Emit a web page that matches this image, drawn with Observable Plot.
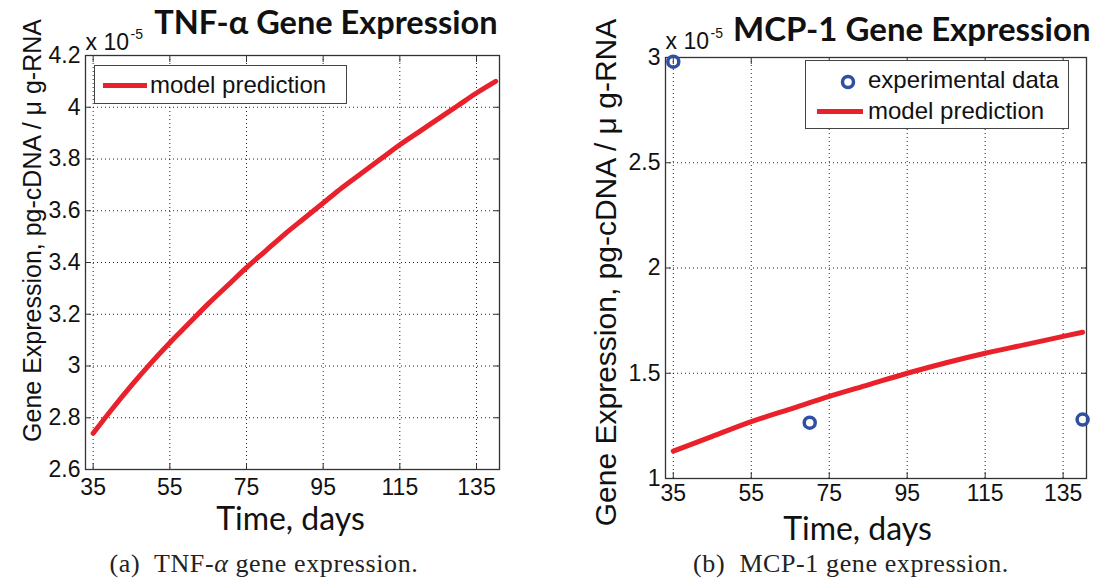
<!DOCTYPE html>
<html>
<head>
<meta charset="utf-8">
<script src="https://cdn.jsdelivr.net/npm/d3@7"></script>
<script src="https://cdn.jsdelivr.net/npm/@observablehq/plot@0.6"></script>
<style>
  html, body { margin: 0; padding: 0; background: #fff; }
  body { width: 1094px; height: 586px; position: relative; overflow: hidden; font-family: "Liberation Sans", Arial, sans-serif; color: #111; }
  .panel { position: absolute; top: 0; width: 547px; height: 540px; }
  .panel svg { overflow: visible; }
  .caption { position: absolute; top: 549px; font-family: "Liberation Serif", "DejaVu Serif", serif; font-size: 26px; letter-spacing: 0.6px; color: #222; white-space: nowrap; transform: translateX(-50%); }
  .legend { position: absolute; box-sizing: border-box; border: 1.5px solid #444; background: #fff; }
  .legend .row { position: absolute; left: 0; font-family: "Liberation Sans", Arial, sans-serif; font-size: 24px; line-height: 24px; white-space: nowrap; color: #111; }
  .legend svg { position: absolute; }
</style>
</head>
<body>
<div id="pa" class="panel" style="left:0px"></div>
<div id="pb" class="panel" style="left:547px"></div>

<div class="legend" style="left:94px;top:65px;width:253px;height:39px">
  <svg style="left:8px;top:16px" width="46" height="7"><line x1="0" y1="3.5" x2="44" y2="3.5" stroke="#e8212b" stroke-width="5"/></svg>
  <div class="row" style="left:55px;top:7px">model prediction</div>
</div>

<div class="legend" style="left:805px;top:60px;width:264px;height:69px">
  <svg style="left:32px;top:11px" width="20" height="20"><circle cx="10" cy="10" r="5.5" fill="none" stroke="#2f4fa2" stroke-width="3.5"/></svg>
  <div class="row" style="left:62px;top:7px">experimental data</div>
  <svg style="left:11px;top:47px" width="48" height="7"><line x1="0" y1="3.5" x2="46" y2="3.5" stroke="#e8212b" stroke-width="5"/></svg>
  <div class="row" style="left:62px;top:38px">model prediction</div>
</div>

<div class="caption" style="left:264px">(a)&nbsp; TNF-<i>α</i> gene expression.</div>
<div class="caption" style="left:851px">(b)&nbsp; MCP-1 gene expression.</div>

<script>
// ---------------- data ----------------
const xTicks = [35, 55, 75, 95, 115, 135];

// TNF-alpha model prediction (x 10^-5 pg-cDNA / ug-RNA)
const tnfDays = [35, 40, 45, 50, 55, 60, 65, 70, 75, 80, 85, 90, 95, 100, 105, 110, 115, 120, 125, 130, 135, 140];
const tnfExpr = [2.74, 2.835, 2.925, 3.01, 3.09, 3.165, 3.24, 3.31, 3.38, 3.445, 3.51, 3.57, 3.63, 3.69, 3.745, 3.80, 3.855, 3.905, 3.955, 4.005, 4.055, 4.10];
const tnfYTicks = [2.6, 2.8, 3, 3.2, 3.4, 3.6, 3.8, 4, 4.2];

// MCP-1 model prediction and experimental data
const mcpDays = [35, 45, 55, 65, 75, 85, 95, 105, 115, 125, 135, 140];
const mcpExpr = [1.13, 1.20, 1.27, 1.33, 1.39, 1.445, 1.50, 1.55, 1.595, 1.635, 1.675, 1.695];
const expDays = [35, 70, 140];
const expValues = [2.98, 1.265, 1.28];
const mcpYTicks = [1, 1.5, 2, 2.5, 3];

const tnfLine = tnfDays.map((d, i) => ({day: d, value: tnfExpr[i]}));
const mcpLine = mcpDays.map((d, i) => ({day: d, value: mcpExpr[i]}));
const mcpPoints = expDays.map((d, i) => ({day: d, value: expValues[i]}));

const RED = "#e8212b", BLUE = "#2f4fa2";
const W = 547, H = 540;

function panel(cfg) {
  const fL = cfg.left, fT = cfg.top;
  // text with its baseline at absolute panel coords
  const label = (s, x, baseline, fs, extra = {}) => Plot.text([s], {
    text: d => d, frameAnchor: "top-left", lineAnchor: "top",
    dx: x - fL, dy: baseline - 0.71 * fs - fT, fontSize: fs, fill: "#111", ...extra
  });
  const ylab = (s, baseX, centerY, fs, extra = {}) => Plot.text([s], {
    text: d => d, frameAnchor: "top-left", lineAnchor: "top", rotate: -90, textAnchor: "middle",
    dx: baseX - 0.71 * fs - fL, dy: centerY - fT, fontSize: fs, fill: "#111", ...extra
  });
  const grid = {stroke: "#000", strokeOpacity: 0.85, strokeWidth: 1, strokeDasharray: "1,3"};
  return Plot.plot({
    width: W, height: H,
    marginLeft: cfg.left, marginRight: cfg.right, marginTop: cfg.top, marginBottom: cfg.bottom,
    x: {domain: [33, 141]},
    y: {domain: cfg.yDomain},
    style: {fontFamily: "Liberation Sans, Arial, sans-serif", color: "#111", background: "transparent", overflow: "visible"},
    marks: [
      Plot.gridX(xTicks, grid),
      Plot.gridY(cfg.yTicks, grid),
      Plot.frame({stroke: "#333", strokeWidth: 1.3}),
      Plot.axisX(xTicks, {anchor: "bottom", tickSize: 0, tickPadding: cfg.xPad, fontSize: cfg.tickFs, label: null, tickFormat: d => String(d)}),
      Plot.axisX(xTicks, {anchor: "bottom", tickSize: -6, tickFormat: () => "", label: null, stroke: "#333"}),
      Plot.axisX(xTicks, {anchor: "top", tickSize: -6, tickFormat: () => "", label: null, stroke: "#333"}),
      Plot.axisY(cfg.yTicks, {anchor: "left", tickSize: 0, tickPadding: 5, fontSize: cfg.tickFs, label: null, tickFormat: d => String(d)}),
      Plot.axisY(cfg.yTicks, {anchor: "left", tickSize: -6, tickFormat: () => "", label: null, stroke: "#333"}),
      Plot.axisY(cfg.yTicks, {anchor: "right", tickSize: -6, tickFormat: () => "", label: null, stroke: "#333"}),
      ...cfg.marks,
      label(cfg.title, cfg.titleEnd, cfg.titleBase, cfg.titleFs, {textAnchor: "end", fontWeight: "bold", fontFamily: "Lato, Open Sans, sans-serif"}),
      label("x 10", cfg.expX, cfg.expBase, 23, {textAnchor: "start"}),
      label("-5", cfg.expX + 45, cfg.expBase - 11, 14, {textAnchor: "start"}),
      label("Time, days", cfg.xlabX, cfg.xlabBase, cfg.xlabFs, {textAnchor: "middle", fontFamily: "Lato, Open Sans, sans-serif"}),
      ylab("Gene Expression, pg-cDNA / \u03bc g-RNA", cfg.ylabX, cfg.ylabY, cfg.ylabFs)
    ]
  });
}

document.getElementById("pa").append(panel({
  left: 85, right: W - 499, top: 55, bottom: H - 469,
  yDomain: [2.6, 4.2], yTicks: tnfYTicks, tickFs: 23, xPad: 9,
  title: "TNF-\u03b1 Gene Expression", titleEnd: 497, titleBase: 33, titleFs: 32.5,
  expX: 85, expBase: 49,
  xlabX: 290, xlabBase: 529, xlabFs: 32,
  ylabX: 40, ylabY: 230, ylabFs: 25,
  marks: [
    Plot.line(tnfLine, {x: "day", y: "value", stroke: RED, strokeWidth: 5, curve: "monotone-x"})
  ]
}));

document.getElementById("pb").append(panel({
  left: 118, right: W - 539, top: 57, bottom: H - 478,
  yDomain: [1, 3], yTicks: mcpYTicks, tickFs: 23, xPad: 6,
  title: "MCP-1 Gene Expression", titleEnd: 543, titleBase: 40, titleFs: 33,
  expX: 118, expBase: 48,
  xlabX: 310, xlabBase: 539, xlabFs: 32,
  ylabX: 68, ylabY: 272, ylabFs: 30,
  marks: [
    Plot.line(mcpLine, {x: "day", y: "value", stroke: RED, strokeWidth: 5, curve: "monotone-x"}),
    Plot.dot(mcpPoints, {x: "day", y: "value", r: 5.5, stroke: BLUE, strokeWidth: 3.5, fill: "none"})
  ]
}));
</script>
</body>
</html>
